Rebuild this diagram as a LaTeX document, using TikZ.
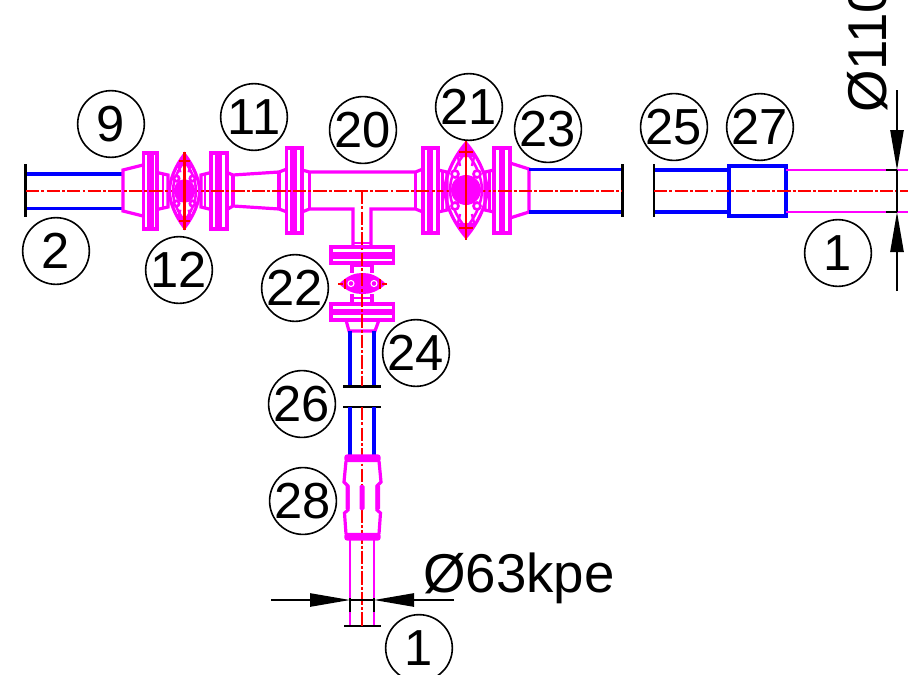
\documentclass[tikz,border=0pt]{standalone}
\usepackage{fontspec}
\setmainfont{Liberation Sans}
\usetikzlibrary{arrows.meta}
\definecolor{mag}{RGB}{255,0,255}
\definecolor{blu}{RGB}{0,0,255}
\definecolor{rd}{RGB}{255,0,0}
\tikzset{
  mg/.style={draw=mag,line width=2.4bp,line join=miter},
  mgt/.style={draw=mag,line width=1.9bp},
  bl/.style={draw=blu,line width=2.5bp},
  blk/.style={draw=black,line width=1.6bp},
  ctr/.style={draw=rd,line width=2.15bp,dash pattern=on 10bp off 1.6bp on 2.2bp off 1.6bp},
  balloon/.style={circle,draw=black,line width=1.2bp,minimum size=50bp,inner sep=0pt,font=\fontsize{38bp}{40bp}\selectfont},
  dimtxt/.style={inner sep=0pt,font=\fontsize{41bp}{43bp}\selectfont},
  dimarrow/.style={draw=black,line width=1.1bp,-{Triangle[length=30bp,width=10bp]}}
}
\newcommand{\hflange}[6]{%
  \draw[mg] (#1,#5) rectangle (#2,#6);
  \draw[mg] (#3,#5) rectangle (#4,#6);
  \draw[mg] (#2,#5) -- (#3,#5) (#2,#6) -- (#3,#6);
  \fill[mag] (#2,#5) rectangle (#3,#6);}
\newcommand{\valvebody}[4]{%
\begin{scope}[shift={(#1,#2)},xscale=#3,yscale=#4]
  \draw[mg] (0,-47) .. controls (13,-32) and (21,-13) .. (21,0) .. controls (21,13) and (13,32) .. (0,47)
            .. controls (-13,32) and (-21,13) .. (-21,0) .. controls (-21,-13) and (-13,-32) .. (0,-47) -- cycle;
  \draw[mgt] (0,-38) .. controls (9,-28) and (16,-13) .. (16,0) .. controls (16,13) and (9,28) .. (0,38)
            .. controls (-9,28) and (-16,13) .. (-16,0) .. controls (-16,-13) and (-9,-28) .. (0,-38) -- cycle;
  \fill[mag] (0,-47) -- (10,-33) -- (-10,-33) -- cycle;
  \fill[mag] (0,47) -- (10,33) -- (-10,33) -- cycle;
  \draw[mgt] (-8,-33) -- (-6,-24) (8,-33) -- (6,-24) (-8,33) -- (-6,24) (8,33) -- (6,24);
  \fill[mag] (0,0) circle[radius=15];
  \foreach \sx in {-1,1}\foreach \sy in {-1,1}{
    \draw[mag,line width=2bp,fill=white] (11*\sx,16*\sy) circle[radius=3.5];}
  \draw[rd,line width=1.8bp] (0,-50) -- (0,50);
  \draw[rd,line width=1.5bp] (-7,-38) -- (7,-38) (-7,38) -- (7,38);
\end{scope}}
\begin{document}
\begin{tikzpicture}[x=0.75bp,y=-0.75bp]
\useasboundingbox (0,0) rectangle (908,675);
\clip (0,0) rectangle (908,675);
% ---- left run
\draw[bl] (26,174) -- (123,174) (26,208.5) -- (123,208.5);
\draw[mg] (143,165) -- (123,170) -- (123,211) -- (143,216);
\hflange{143.5}{149}{152}{157}{153}{229}
\draw[mg] (157,172.5) -- (168,175) -- (168,207) -- (157,209.5);
\draw[mgt] (163,174) -- (163,208);
\draw[mg] (211,172.5) -- (201,175) -- (201,207) -- (211,209.5);
\draw[mgt] (205,174) -- (205,208);
\hflange{211}{217}{220}{227}{153}{229}
\draw[mg] (227,172.5) -- (233,175) -- (279,172) -- (287,169);
\draw[mg] (227,209.5) -- (233,206) -- (279,209) -- (287,212);
\draw[mg] (233,175) -- (233,206) (279,172) -- (279,209);
\hflange{286.5}{292}{295}{302}{148}{233}
% ---- tee
\draw[mg] (302,170) -- (309.5,172) -- (415.5,172) -- (423,169);
\draw[mg] (302,212) -- (309.5,209) -- (353,209) -- (353,247);
\draw[mg] (423,212) -- (415.5,209) -- (371,209) -- (371,247);
\draw[mg] (309.5,172) -- (309.5,209) (415.5,172) -- (415.5,209);
\hflange{423}{429}{431.5}{438}{148}{233}
% ---- valve 21
\draw[mg] (438,170) -- (447,172) -- (447,210) -- (438,212);
\draw[mgt] (442.5,171) -- (442.5,211);
\draw[mg] (494,170) -- (485,172) -- (485,210) -- (494,212);
\draw[mgt] (489.5,171) -- (489.5,211);
\hflange{494}{501}{503}{510}{148}{233}
\draw[mg] (510,163) -- (529,169) -- (529,212) -- (510,218);
\draw[bl] (529,169.5) -- (622,169.5) (529,212) -- (622,212);
% ---- right run
\draw[bl] (654,170) -- (729,170) (654,212) -- (729,212);
\draw[bl] (729,166) rectangle (786,216);
\draw[mgt] (786,170) -- (886,170) (897,170) -- (908,170);
\draw[mgt] (786,212) -- (886,212) (897,212) -- (908,212);
% ---- pipe end bars
\draw[blk] (25.5,164) -- (25.5,217);
\draw[blk] (622.5,164) -- (622.5,217);
\draw[blk] (654,164) -- (654,217);
% ---- branch
\draw[mgt] (353,243) -- (371,243);
\draw[mg] (331,247) rectangle (393.5,254);
\draw[mg] (331,257) rectangle (393.5,263);
\fill[mag] (331,254) rectangle (393.5,257);
\draw[mg] (352,263) -- (352,273) (372,263) -- (372,273);
\draw[mgt] (352,266) -- (372,266);
\fill[mag] (339,284) .. controls (348,275) and (355,273) .. (362.5,273) .. controls (370,273) and (377,275) .. (386,284)
           .. controls (377,292) and (370,294) .. (362.5,294) .. controls (355,294) and (348,292) .. (339,284) -- cycle;
\draw[mg] (352,294) -- (352,304) (372,294) -- (372,304);
\draw[mgt] (352,298) -- (372,298);
\draw[mg] (331,304) rectangle (393.5,311);
\draw[mg] (331,313) rectangle (393.5,320);
\fill[mag] (331,311) rectangle (393.5,313);
\draw[mg] (346,320) -- (349,331) -- (375,331) -- (379,320);
\draw[bl] (350,331) -- (350,387) (374,331) -- (374,387);
\draw[blk] (343,386.5) -- (381,386.5);
\draw[blk] (343,407) -- (381,407);
\draw[bl] (350,407) -- (350,455) (374,407) -- (374,455);
% ---- lower pipe
\draw[mgt] (350,540) -- (350,626) (374,540) -- (374,626);
\draw[blk] (344,626) -- (381,626);
% ---- centre lines
\draw[ctr] (26,191) -- (622,191);
\draw[ctr] (654,191) -- (908,191);
\draw[ctr] (362,191) -- (362,386);
\draw[ctr] (362,407) -- (362,626);
% ---- valves over the centre lines
\valvebody{184.5}{191}{0.72}{0.78}
\valvebody{466}{190}{1}{1}
\foreach \px in {351,374}{\draw[draw=white,line width=0.8bp,fill=mag] (\px,283.5) circle[radius=3];}
\draw[rd,line width=1.5bp] (338,284) -- (343,284) (345,279) -- (345,289) (380,279) -- (380,289) (382,284) -- (387,284);
% ---- coupling 28
\draw[draw=mag,fill=mag,line width=1.8bp,rounded corners=1.5bp] (345.5,455.5) rectangle (379.5,461);
\draw[draw=mag,fill=mag,line width=1.8bp,rounded corners=1.5bp] (345.5,534) rectangle (379.5,539.5);
\draw[mg] (346,461) -- (344,482) -- (348,486) -- (348,510) -- (344.5,513) -- (346,534);
\draw[mg] (379,461) -- (381,482) -- (377,486) -- (377,510) -- (380.5,513) -- (379,534);
\fill[mag,rounded corners=1bp] (345.5,485) rectangle (349.5,510);
\fill[mag,rounded corners=1bp] (375.5,485) rectangle (380,510);
\fill[mag,rounded corners=1bp] (359.5,485) rectangle (364.5,510);
% ---- dimensions
\coordinate (dL) at (350,600); \coordinate (dR) at (374,600);
\coordinate (dLs) at (271,600); \coordinate (dRs) at (454,600);
\draw[dimarrow] (dLs) -- (dL);
\draw[dimarrow] (dRs) -- (dR);
\draw[draw=black,line width=1.1bp] (dL) -- (dR);
\draw[blk] (350,598) -- (350,612) (374,598) -- (374,612);
\coordinate (dT) at (897,170); \coordinate (dB) at (897,212);
\coordinate (dTs) at (897,90); \coordinate (dBs) at (897,291);
\draw[dimarrow] (dTs) -- (dT);
\draw[dimarrow] (dBs) -- (dB);
\draw[draw=black,line width=1.1bp] (dT) -- (dB);
\draw[draw=black,line width=1.1bp] (886,170) -- (897,170) (886,212) -- (897,212);
% ---- texts
\node[dimtxt,anchor=base west] (t63) at (423,592) {Ø63kpe};
\node[dimtxt,anchor=base west,rotate=90] (t110) at (886,113) {Ø110};
% ---- balloons
\node[balloon] (b2) at (56,251) {2};
\node[balloon] (b9) at (111,124) {9};
\node[balloon] (b11) at (254,117) {11};
\node[balloon] (b12) at (179,270) {12};
\node[balloon] (b20) at (363,130) {20};
\node[balloon] (b21) at (469,107) {21};
\node[balloon] (b23) at (548,129) {23};
\node[balloon] (b25) at (674,127) {25};
\node[balloon] (b27) at (760,127) {27};
\node[balloon] (b1a) at (838,253) {1};
\node[balloon] (b22) at (295,288) {22};
\node[balloon] (b24) at (416,353) {24};
\node[balloon] (b26) at (302,404) {26};
\node[balloon] (b28) at (303,501) {28};
\node[balloon] (b1b) at (419,648) {1};
\end{tikzpicture}
\end{document}
